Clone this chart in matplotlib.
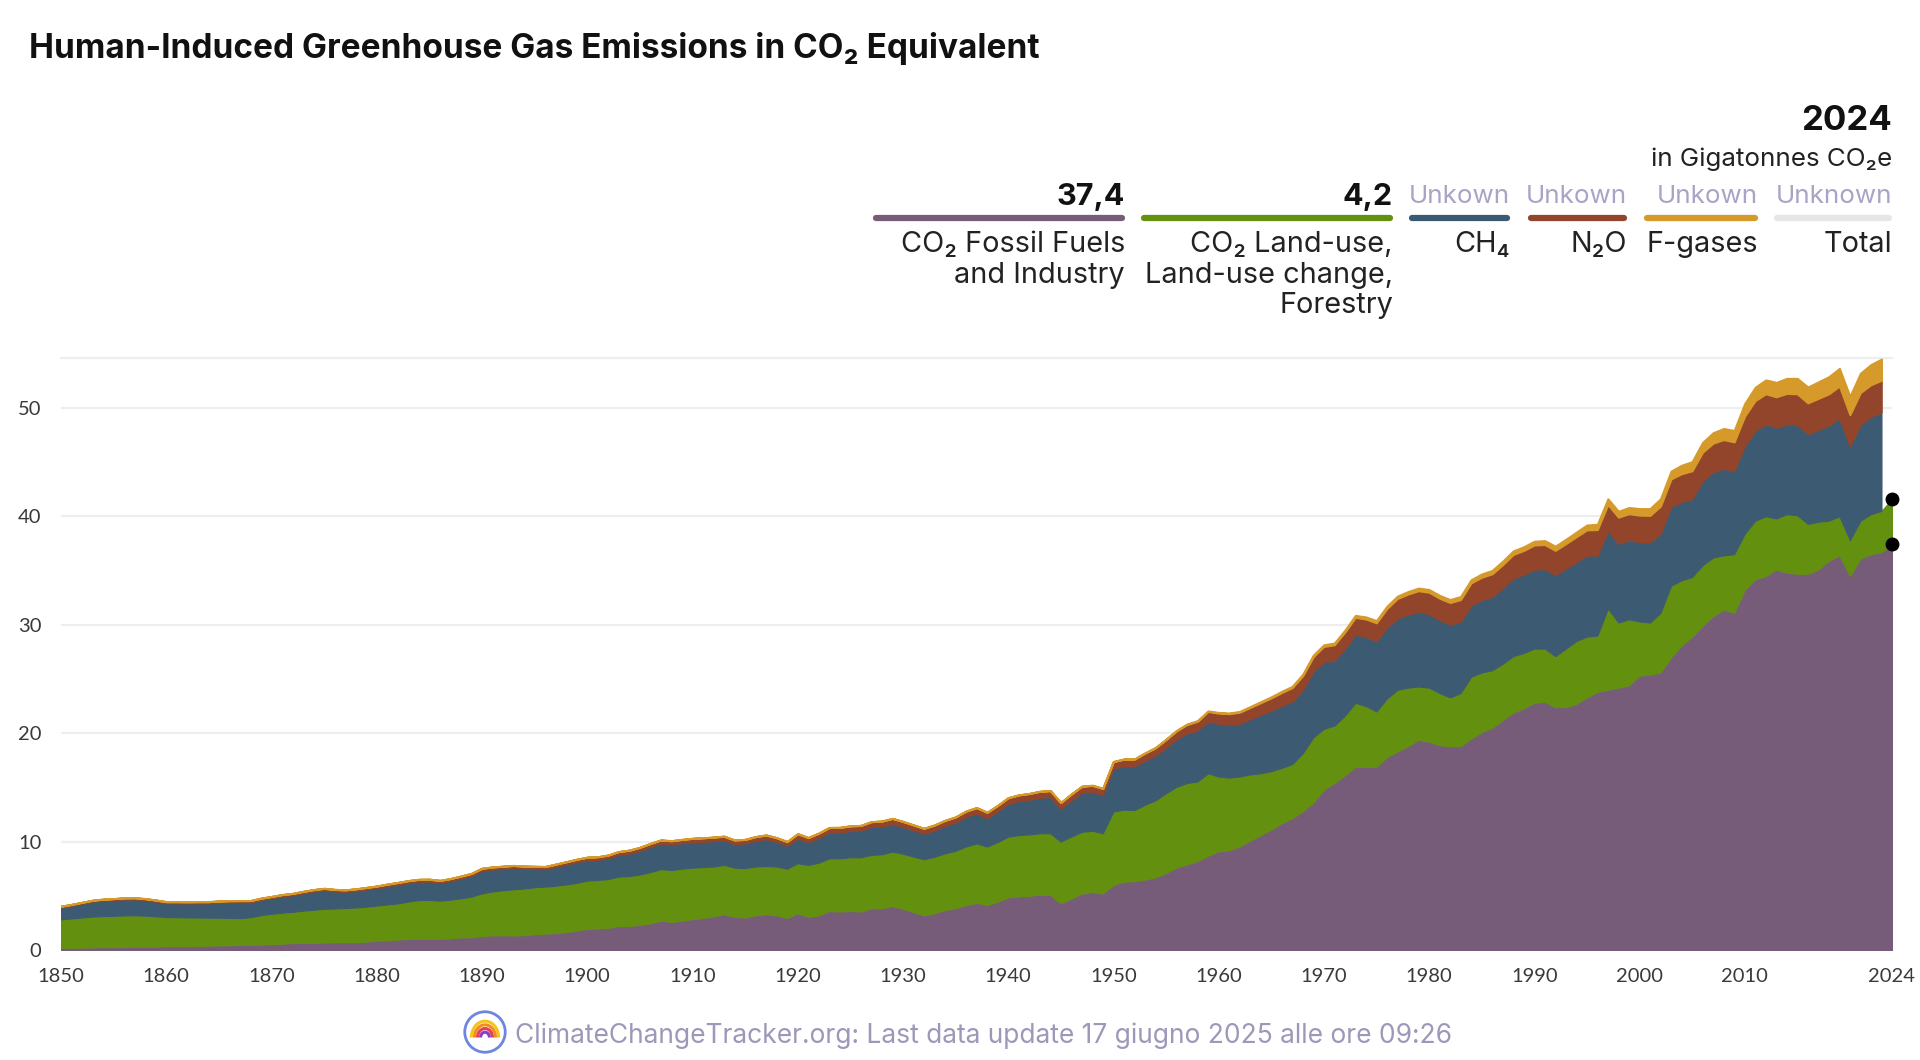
import numpy as np
import matplotlib.pyplot as plt
from matplotlib.lines import Line2D
from matplotlib.patches import Circle, Arc

plt.rcParams['font.family'] = ['Inter', 'DejaVu Sans']

# --- data (Gt CO2e per year) ---
years = np.arange(1850, 2025)
years_gas = np.arange(1850, 2024)

fossil = [
    0.20, 0.21, 0.22, 0.24, 0.26, 0.26, 0.28, 0.29, 0.29, 0.31,
    0.34, 0.35, 0.35, 0.38, 0.40, 0.43, 0.44, 0.47, 0.47, 0.51,
    0.54, 0.59, 0.64, 0.68, 0.66, 0.70, 0.71, 0.72, 0.72, 0.78,
    0.86, 0.90, 0.96, 1.02, 1.03, 1.02, 1.03, 1.08, 1.17, 1.17,
    1.29, 1.35, 1.36, 1.33, 1.37, 1.46, 1.51, 1.56, 1.65, 1.78,
    1.95, 1.99, 2.04, 2.22, 2.22, 2.32, 2.46, 2.71, 2.60, 2.70,
    2.85, 2.95, 3.10, 3.30, 3.05, 3.00, 3.20, 3.30, 3.20, 2.95,
    3.40, 3.05, 3.20, 3.60, 3.55, 3.60, 3.55, 3.85, 3.85, 4.05,
    3.80, 3.50, 3.20, 3.40, 3.70, 3.85, 4.15, 4.35, 4.15, 4.45,
    4.85, 4.95, 5.00, 5.10, 5.10, 4.30, 4.75, 5.20, 5.35, 5.20,
    6.00, 6.30, 6.35, 6.50, 6.70, 7.10, 7.60, 7.90, 8.20, 8.70,
    9.10, 9.20, 9.55, 10.10, 10.60, 11.10, 11.70, 12.15, 12.80, 13.60,
    14.80, 15.40, 16.10, 16.90, 16.90, 16.90, 17.80, 18.30, 18.80, 19.40,
    19.20, 18.90, 18.80, 18.80, 19.50, 20.10, 20.50, 21.20, 21.90, 22.30,
    22.80, 22.90, 22.40, 22.40, 22.70, 23.30, 23.80, 24.00, 24.20, 24.40,
    25.30, 25.40, 25.60, 27.00, 28.10, 28.90, 29.90, 30.80, 31.40, 31.10,
    33.20, 34.20, 34.50, 35.10, 34.80, 34.70, 34.70, 35.10, 35.90, 36.40,
    34.50, 36.10, 36.50, 36.70, 37.40,
]

land_use = [
    2.63, 2.70, 2.78, 2.84, 2.87, 2.89, 2.91, 2.91, 2.88, 2.80,
    2.70, 2.68, 2.65, 2.62, 2.58, 2.55, 2.52, 2.47, 2.55, 2.70,
    2.80, 2.85, 2.88, 2.95, 3.05, 3.10, 3.12, 3.15, 3.20, 3.22,
    3.24, 3.30, 3.34, 3.45, 3.58, 3.60, 3.52, 3.56, 3.60, 3.75,
    3.94, 4.05, 4.15, 4.27, 4.30, 4.33, 4.34, 4.37, 4.40, 4.42,
    4.45, 4.47, 4.50, 4.55, 4.60, 4.65, 4.72, 4.75, 4.78, 4.80,
    4.75, 4.70, 4.60, 4.55, 4.55, 4.55, 4.50, 4.45, 4.50, 4.55,
    4.60, 4.80, 4.85, 4.86, 4.90, 4.95, 5.00, 4.92, 4.98, 5.03,
    5.08, 5.12, 5.17, 5.20, 5.22, 5.30, 5.40, 5.48, 5.39, 5.50,
    5.60, 5.65, 5.66, 5.67, 5.67, 5.70, 5.72, 5.70, 5.65, 5.57,
    6.77, 6.65, 6.55, 6.90, 7.10, 7.36, 7.45, 7.50, 7.35, 7.60,
    6.90, 6.70, 6.45, 6.10, 5.70, 5.40, 5.10, 5.00, 5.35, 6.00,
    5.60, 5.30, 5.50, 5.90, 5.60, 5.10, 5.40, 5.70, 5.40, 4.90,
    5.00, 4.80, 4.50, 4.90, 5.70, 5.50, 5.30, 5.20, 5.20, 5.10,
    5.00, 4.90, 4.70, 5.40, 5.80, 5.60, 5.20, 7.50, 6.00, 6.10,
    5.00, 4.80, 5.50, 6.60, 6.00, 5.50, 5.60, 5.40, 5.00, 5.40,
    5.20, 5.40, 5.50, 4.70, 5.40, 5.40, 4.60, 4.40, 3.70, 3.60,
    3.30, 3.50, 3.70, 3.80, 4.20,
]

ch4 = [
    1.11, 1.20, 1.30, 1.40, 1.45, 1.48, 1.50, 1.50, 1.45, 1.38,
    1.29, 1.30, 1.32, 1.33, 1.34, 1.40, 1.45, 1.48, 1.40, 1.42,
    1.45, 1.52, 1.55, 1.62, 1.70, 1.73, 1.60, 1.51, 1.55, 1.60,
    1.63, 1.70, 1.75, 1.75, 1.72, 1.72, 1.68, 1.75, 1.85, 1.95,
    2.10, 2.05, 2.00, 1.98, 1.85, 1.70, 1.62, 1.75, 1.85, 1.92,
    1.90, 1.87, 1.95, 2.03, 2.10, 2.20, 2.35, 2.38, 2.38, 2.38,
    2.37, 2.36, 2.36, 2.30, 2.20, 2.30, 2.40, 2.50, 2.30, 2.14,
    2.31, 2.10, 2.30, 2.40, 2.42, 2.45, 2.48, 2.60, 2.58, 2.57,
    2.50, 2.45, 2.38, 2.45, 2.55, 2.62, 2.75, 2.78, 2.64, 2.85,
    3.05, 3.15, 3.22, 3.30, 3.37, 3.05, 3.35, 3.63, 3.60, 3.55,
    4.00, 4.02, 4.05, 4.08, 4.15, 4.22, 4.40, 4.60, 4.70, 4.80,
    4.90, 4.90, 4.90, 5.10, 5.40, 5.60, 5.75, 5.80, 5.85, 6.10,
    6.20, 6.00, 6.20, 6.30, 6.40, 6.50, 6.55, 6.60, 6.75, 6.90,
    6.80, 6.75, 6.75, 6.60, 6.60, 6.70, 6.80, 7.00, 7.20, 7.25,
    7.30, 7.35, 7.50, 7.40, 7.30, 7.50, 7.40, 7.20, 7.30, 7.30,
    7.35, 7.40, 7.35, 7.30, 7.25, 7.20, 7.80, 7.90, 8.00, 7.70,
    8.10, 8.30, 8.50, 8.40, 8.30, 8.35, 8.30, 8.50, 8.80, 9.10,
    8.70, 8.90, 9.00, 9.10,
]

n2o = [
    0.10, 0.10, 0.10, 0.11, 0.11, 0.11, 0.12, 0.12, 0.12, 0.12,
    0.13, 0.13, 0.13, 0.13, 0.14, 0.14, 0.14, 0.14, 0.14, 0.15,
    0.15, 0.15, 0.15, 0.16, 0.16, 0.16, 0.16, 0.17, 0.17, 0.17,
    0.17, 0.18, 0.18, 0.18, 0.19, 0.19, 0.19, 0.20, 0.20, 0.20,
    0.21, 0.21, 0.22, 0.22, 0.22, 0.23, 0.23, 0.24, 0.24, 0.25,
    0.26, 0.27, 0.27, 0.28, 0.29, 0.30, 0.30, 0.31, 0.32, 0.32,
    0.33, 0.34, 0.35, 0.35, 0.35, 0.35, 0.36, 0.36, 0.36, 0.36,
    0.42, 0.42, 0.43, 0.44, 0.44, 0.45, 0.46, 0.47, 0.48, 0.49,
    0.48, 0.47, 0.47, 0.48, 0.49, 0.50, 0.51, 0.52, 0.52, 0.53,
    0.54, 0.55, 0.55, 0.56, 0.56, 0.55, 0.56, 0.57, 0.58, 0.58,
    0.60, 0.63, 0.65, 0.67, 0.70, 0.72, 0.76, 0.80, 0.85, 0.90,
    0.95, 1.00, 1.03, 1.07, 1.11, 1.15, 1.20, 1.25, 1.30, 1.35,
    1.40, 1.45, 1.52, 1.58, 1.63, 1.68, 1.75, 1.82, 1.88, 1.94,
    2.00, 2.00, 2.00, 2.02, 2.06, 2.08, 2.10, 2.14, 2.18, 2.20,
    2.25, 2.25, 2.26, 2.28, 2.32, 2.35, 2.38, 2.40, 2.42, 2.44,
    2.46, 2.48, 2.50, 2.55, 2.58, 2.60, 2.62, 2.65, 2.68, 2.66,
    2.75, 2.78, 2.80, 2.82, 2.84, 2.85, 2.86, 2.88, 2.90, 2.92,
    2.88, 2.92, 2.94, 2.95,
]

fgases = [
    0.00, 0.00, 0.00, 0.00, 0.00, 0.00, 0.00, 0.00, 0.00, 0.00,
    0.00, 0.00, 0.00, 0.00, 0.00, 0.00, 0.00, 0.00, 0.00, 0.00,
    0.00, 0.00, 0.00, 0.00, 0.00, 0.00, 0.00, 0.00, 0.00, 0.00,
    0.00, 0.00, 0.00, 0.00, 0.00, 0.00, 0.00, 0.00, 0.00, 0.00,
    0.00, 0.00, 0.00, 0.00, 0.00, 0.00, 0.00, 0.00, 0.00, 0.00,
    0.00, 0.00, 0.00, 0.00, 0.00, 0.00, 0.00, 0.00, 0.00, 0.00,
    0.00, 0.00, 0.00, 0.00, 0.00, 0.00, 0.00, 0.00, 0.00, 0.00,
    0.00, 0.00, 0.00, 0.00, 0.00, 0.00, 0.00, 0.00, 0.00, 0.00,
    0.00, 0.00, 0.00, 0.00, 0.00, 0.01, 0.01, 0.01, 0.01, 0.01,
    0.01, 0.01, 0.01, 0.01, 0.01, 0.01, 0.01, 0.01, 0.02, 0.02,
    0.02, 0.02, 0.03, 0.03, 0.03, 0.04, 0.04, 0.04, 0.05, 0.05,
    0.06, 0.06, 0.07, 0.08, 0.09, 0.10, 0.11, 0.12, 0.13, 0.14,
    0.15, 0.16, 0.17, 0.18, 0.19, 0.20, 0.21, 0.22, 0.23, 0.24,
    0.25, 0.26, 0.27, 0.28, 0.29, 0.30, 0.31, 0.32, 0.33, 0.34,
    0.35, 0.36, 0.38, 0.40, 0.42, 0.45, 0.48, 0.51, 0.54, 0.57,
    0.60, 0.63, 0.67, 0.72, 0.78, 0.84, 0.90, 0.96, 1.02, 1.05,
    1.15, 1.22, 1.28, 1.33, 1.38, 1.42, 1.46, 1.52, 1.58, 1.62,
    1.68, 1.78, 1.86, 1.95,
]

xticks = [1850, 1860, 1870, 1880, 1890, 1900, 1910, 1920, 1930, 1940,
          1950, 1960, 1970, 1980, 1990, 2000, 2010, 2024]
yticks = [0, 10, 20, 30, 40, 50]

c_fossil = '#775c7a'
c_land = '#64900f'
c_ch4 = '#3d5a73'
c_n2o = '#93452b'
c_fgas = '#d69a2b'
c_total = '#e6e6e6'
c_unknown = '#a9a4c6'

W, H = 1920, 1060
fig = plt.figure(figsize=(W / 100, H / 100), dpi=100)
fig.patch.set_facecolor('white')


def fx(x):
    return x / W


def fy(y):
    return 1 - y / H


# plot area: x 61..1892 px, y 950 (zero) .. 358 px
ax = fig.add_axes([fx(61), fy(950), fx(1892) - fx(61), fy(358) - fy(950)])
ymax = 54.6

f = np.array(fossil)
l = np.array(land_use)
base1 = f
base2 = f + l
g_base = base2[:-1]
b3 = g_base + np.array(ch4)
b4 = b3 + np.array(n2o)
b5 = b4 + np.array(fgases)

ax.fill_between(years, 0, base1, color=c_fossil, lw=0.8, zorder=2)
ax.fill_between(years, base1, base2, color=c_land, lw=0.8, zorder=2)
ax.fill_between(years_gas, g_base, b3, color=c_ch4, lw=0.8, zorder=2)
ax.fill_between(years_gas, b3, b4, color=c_n2o, lw=1.2, zorder=2)
ax.fill_between(years_gas, b4, b5, color=c_fgas, lw=1.5, zorder=2)

# end-year markers
ax.plot([2024, 2024], [base1[-1], base2[-1]], 'o', color='black',
        ms=9, clip_on=False, zorder=5)

ax.set_xlim(1850, 2024)
ax.set_ylim(0, ymax)
for s in ax.spines.values():
    s.set_visible(False)
ax.set_yticks(yticks)
ax.set_xticks(xticks)
ax.set_xticklabels([str(t) for t in xticks])
ax.grid(axis='y', color='#eeeeee', lw=1.6, zorder=0)
ax.axhline(ymax, color='#eeeeee', lw=1.6, zorder=0, clip_on=False)
ax.set_axisbelow(True)
ax.tick_params(length=0, labelsize=14.5, colors='#3a3a3a')
ax.tick_params(axis='x', pad=13)
ax.tick_params(axis='y', pad=14)
for lab in ax.get_xticklabels() + ax.get_yticklabels():
    lab.set_family(['Lato', 'DejaVu Sans'])

# title
fig.text(fx(29), fy(58), 'Human-Induced Greenhouse Gas Emissions in CO\u2082 Equivalent',
         fontsize=24, fontweight='bold', color='#111111', va='baseline')

# legend block
fig.text(fx(1892), fy(130), '2024', fontsize=25, fontweight='bold',
         color='#111111', ha='right', va='baseline')
fig.text(fx(1892), fy(166), 'in Gigatonnes CO\u2082e', fontsize=18.7,
         color='#222222', ha='right', va='baseline')

columns = [
    (873, 1125, c_fossil, '37,4', True, ['CO\u2082 Fossil Fuels', 'and Industry']),
    (1141, 1393, c_land, '4,2', True, ['CO\u2082 Land-use,', 'Land-use change,', 'Forestry']),
    (1409, 1510, c_ch4, 'Unkown', False, ['CH\u2084']),
    (1528, 1627, c_n2o, 'Unkown', False, ['N\u2082O']),
    (1644, 1758, c_fgas, 'Unkown', False, ['F-gases']),
    (1774, 1892, c_total, 'Unknown', False, ['Total']),
]
for x0, x1, col, val, known, lines in columns:
    fig.add_artist(Line2D([fx(x0 + 3), fx(x1 - 3)], [fy(218), fy(218)],
                          color=col, lw=4.5, solid_capstyle='round'))
    if known:
        fig.text(fx(x1), fy(205), val, fontsize=22, fontweight='bold',
                 color='#111111', ha='right', va='baseline')
    else:
        fig.text(fx(x1), fy(203), val, fontsize=18.7,
                 color=c_unknown, ha='right', va='baseline')
    for i, t in enumerate(lines):
        fig.text(fx(x1), fy(252 + 30.5 * i), t, fontsize=20.8,
                 color='#222222', ha='right', va='baseline')

# footer with small logo
fig.text(fx(515), fy(1043), 'ClimateChangeTracker.org: Last data update 17 giugno 2025 alle ore 09:26',
         fontsize=19, color='#9d98b8', ha='left', va='baseline')
lax = fig.add_axes([fx(463), fy(1054), fx(44), fx(44) * W / H])
lax.set_xlim(-1, 1)
lax.set_ylim(-1, 1)
lax.set_aspect('equal')
lax.axis('off')
lax.add_patch(Circle((0, 0), 0.92, fill=False, ec='#6f86e0', lw=2))
for r, c in [(0.62, '#f6c31c'), (0.48, '#f28c1c'), (0.34, '#e0405a'), (0.2, '#8a3cc8')]:
    lax.add_patch(Arc((0, -0.25), 2 * r, 2.4 * r, theta1=0, theta2=180, color=c, lw=2.2))

fig.savefig('out.png', dpi=100)
